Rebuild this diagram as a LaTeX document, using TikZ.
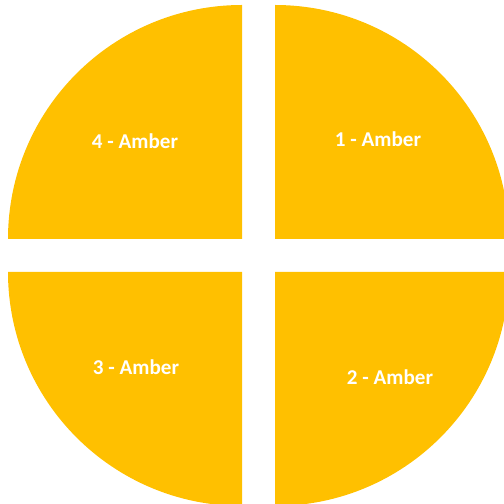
\documentclass[tikz,border=0pt]{standalone}
\usepackage{fontspec}
\setmainfont{Carlito}
\usepackage{xcolor}
\definecolor{amber}{RGB}{255, 192, 0}

\begin{document}
\begin{tikzpicture}[x=0.02cm, y=0.02cm]
        \useasboundingbox (0,0) rectangle (504,504);
        \clip (0,0) rectangle (504,504);
        \tikzset{quarter/.style={fill=amber},
                 lbl/.style={text=white, font=\fontsize{12}{14}\selectfont\bfseries}}

        % 4 (top left)
        \fill[quarter] (242,265) -- ++(0,234) arc[start angle=90, end angle=180, radius=234] -- cycle;
        \node[lbl] (q4) at (135,363) {4 - Amber};

        % 1 (top right)
        \fill[quarter] (275,265) -- ++(0,234) arc[start angle=90, end angle=0, radius=234] -- cycle;
        \node[lbl] (q1) at (378,365) {1 - Amber};

        % 3 (bottom left)
        \fill[quarter] (242,232) -- ++(0,-234) arc[start angle=270, end angle=180, radius=234] -- cycle;
        \node[lbl] (q3) at (136,137) {3 - Amber};

        % 2 (bottom right)
        \fill[quarter] (275,232) -- ++(0,-234) arc[start angle=270, end angle=360, radius=234] -- cycle;
        \node[lbl] (q2) at (390,127) {2 - Amber};
      \end{tikzpicture}
\end{document}
